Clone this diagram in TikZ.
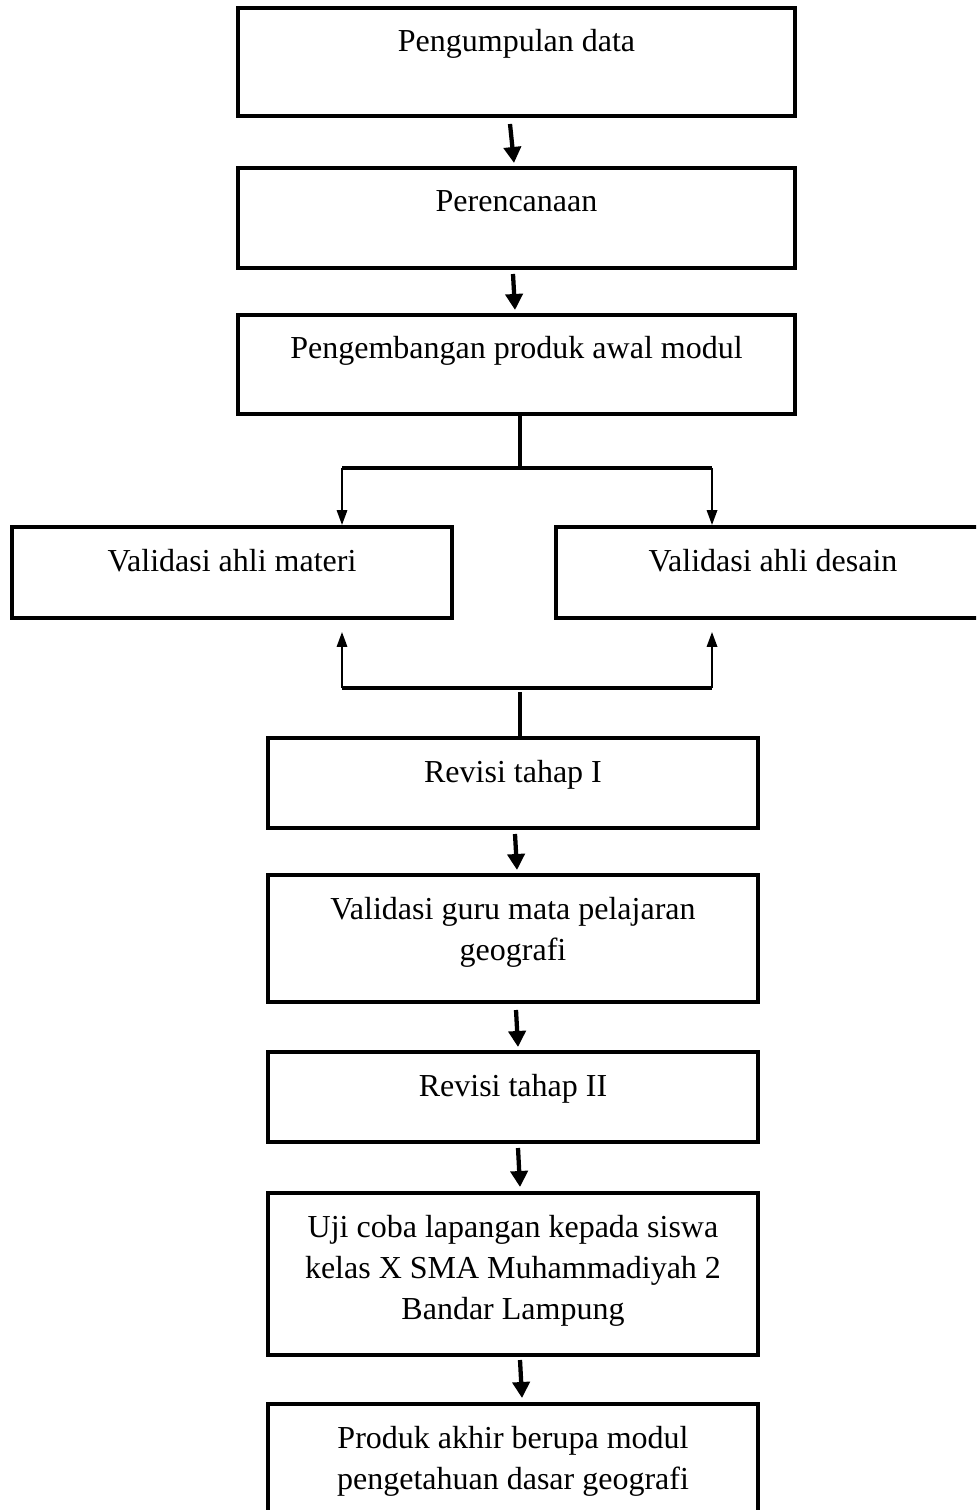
\documentclass[tikz,border=0pt]{standalone}
\usepackage{fontspec}
\setmainfont{Liberation Serif}
\usetikzlibrary{arrows.meta,calc}
\newlength\pxu
\setlength\pxu{0.375pt}
\newcommand\bxt[3]{\begin{minipage}[c][#1\pxu][t]{#2\pxu}\centering\vspace*{5.65pt}\strut #3\end{minipage}}
\tikzset{
  stepbox/.style={draw=black, line width=1.5pt, inner sep=0pt, fill=white, font=\fontsize{12}{15.5}\selectfont},
  thickarr/.style={line width=1.6pt, -{Triangle[width=6.4pt,length=6pt]}},
  thinarr/.style={line width=0.75pt, -{Triangle[width=3.9pt,length=5.6pt]}},
  thickline/.style={line width=1.5pt},
  thinline/.style={line width=0.75pt}
}
\begin{document}
\begin{tikzpicture}[x=0.375pt,y=-0.375pt]
\useasboundingbox (0,0) rectangle (976,1510);
\clip (0,0) rectangle (976,1510);
\fill[white] (0,0) rectangle (976,1510);

\node[stepbox] (b1) at (516.5,62) {\bxt{108}{557}{Pengumpulan data}};
\node[stepbox] (b2) at (516.5,218) {\bxt{100}{557}{Perencanaan}};
\node[stepbox] (b3) at (516.5,364.5) {\bxt{99}{557}{Pengembangan produk awal modul}};
\node[stepbox] (lv) at (232,572.5) {\bxt{91}{440}{Validasi ahli materi}};
\node[stepbox] (rv) at (773,572.5) {\bxt{91}{434}{Validasi ahli desain}};
\node[stepbox] (b4) at (513,783) {\bxt{90}{490}{Revisi tahap I}};
\node[stepbox] (b5) at (513,938.5) {\bxt{127}{490}{Validasi guru mata pelajaran\\geografi}};
\node[stepbox] (b6) at (513,1097) {\bxt{90}{490}{Revisi tahap II}};
\node[stepbox] (b7) at (513,1274) {\bxt{162}{490}{Uji coba lapangan kepada siswa\\kelas X SMA Muhammadiyah 2\\Bandar Lampung}};
\node[stepbox] (b8) at (513,1467) {\bxt{126}{490}{Produk akhir berupa modul\\pengetahuan dasar geografi}};

% straight arrows
\draw[thickarr] ($(b1.south)+(-6.5,6)$) -- ($(b2.north)+(-2.5,-3)$);
\draw[thickarr] ($(b2.south)+(-3.5,4)$) -- ($(b3.north)+(-1.5,-3)$);
\draw[thickarr] ($(b4.south)+(2,4)$) -- ($(b5.north)+(4,-3)$);
\draw[thickarr] ($(b5.south)+(3,6)$) -- ($(b6.north)+(5,-3)$);
\draw[thickarr] ($(b6.south)+(5,4)$) -- ($(b7.north)+(7,-4)$);
\draw[thickarr] ($(b7.south)+(7,3)$) -- ($(b8.north)+(9,-4)$);

% branch to validation boxes
\coordinate (sl) at (342,468);
\coordinate (sr) at (712,468);
\draw[thickline] (b3.south -| 520,0) -- (520,468);
\draw[thickline] (sl) -- (sr);
\draw[thinarr] (sl) -- (sl |- lv.north);
\draw[thinarr] (sr) -- (sr |- rv.north);

% merge back to Revisi tahap I
\coordinate (ml) at (342,688);
\coordinate (mr) at (712,688);
\draw[thickline] (ml) -- (mr);
\draw[thinarr] (ml) -- ($(ml |- lv.south)+(0,12)$);
\draw[thinarr] (mr) -- ($(mr |- rv.south)+(0,12)$);
\draw[thickline] (520,692) -- (b4.north -| 520,0);
\end{tikzpicture}
\end{document}
